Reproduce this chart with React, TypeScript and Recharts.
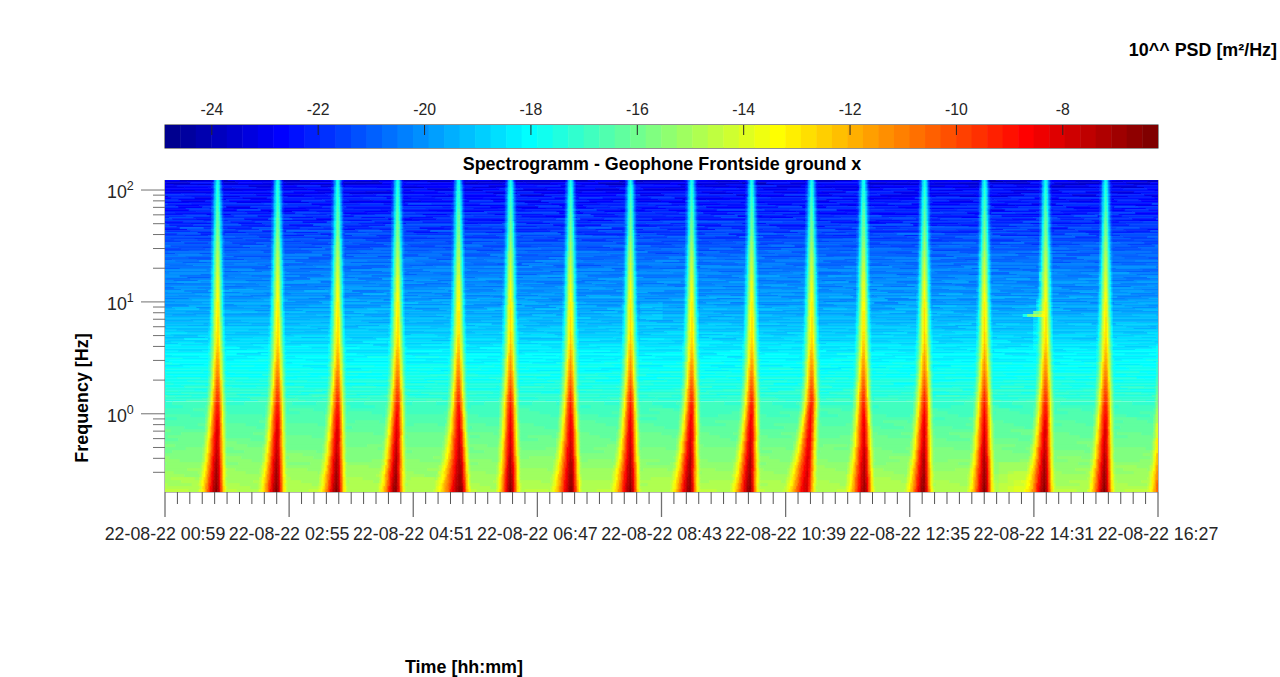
import React from 'react';
import { ScatterChart, Scatter, XAxis, YAxis, ReferenceLine } from 'recharts';

// MATLAB jet(64), the colorbar steps
const jetColors = [
  '#00008f', '#00009f', '#0000af', '#0000bf', '#0000cf', '#0000df', '#0000ef', '#0000ff',
  '#0010ff', '#0020ff', '#0030ff', '#0040ff', '#0050ff', '#0060ff', '#0070ff', '#0080ff',
  '#008fff', '#009fff', '#00afff', '#00bfff', '#00cfff', '#00dfff', '#00efff', '#00ffff',
  '#10ffef', '#20ffdf', '#30ffcf', '#40ffbf', '#50ffaf', '#60ff9f', '#70ff8f', '#80ff80',
  '#8fff70', '#9fff60', '#afff50', '#bfff40', '#cfff30', '#dfff20', '#efff10', '#ffff00',
  '#ffef00', '#ffdf00', '#ffcf00', '#ffbf00', '#ffaf00', '#ff9f00', '#ff8f00', '#ff8000',
  '#ff7000', '#ff6000', '#ff5000', '#ff4000', '#ff3000', '#ff2000', '#ff1000', '#ff0000',
  '#ef0000', '#df0000', '#cf0000', '#bf0000', '#af0000', '#9f0000', '#8f0000', '#800000',
];
const psdMin = -24.88;
const psdMax = -6.21;
const colorbarTicks = [-24, -22, -20, -18, -16, -14, -12, -10, -8];

// time axis, minutes since 00:59
const majorTimes = [0, 116, 232, 348, 464, 580, 696, 812, 928];
const timeLabels = ['00:59', '02:55', '04:51', '06:47', '08:43', '10:39', '12:35', '14:31', '16:27'];
const minorStep = 11.6;
const timeColumns = 662;

const decadeTicks = [1, 10, 100];
const minorFreqTicks = [0.3, 0.4, 0.5, 0.6, 0.7, 0.8, 0.9, 2, 3, 4, 5, 6, 7, 8, 9, 20, 30, 40, 50, 60, 70, 80, 90];

// centre frequency of each spectrogram row, bottom to top [Hz]
const freqBins = [
  0.2075, 0.2208, 0.2348, 0.2497, 0.2656, 0.2825, 0.3005, 0.3196, 0.3399, 0.3615,
  0.3845, 0.409, 0.435, 0.4627, 0.4921, 0.5234, 0.5567, 0.5921, 0.6298, 0.6698,
  0.7124, 0.7577, 0.8059, 0.8572, 0.9117, 0.9697, 1.031, 1.097, 1.167, 1.241,
  1.32, 1.404, 1.493, 1.588, 1.689, 1.796, 1.91, 2.032, 2.161, 2.298,
  2.445, 2.6, 2.766, 2.941, 3.128, 3.327, 3.539, 3.764, 4.003, 4.258,
  4.529, 4.817, 5.123, 5.449, 5.795, 6.164, 6.556, 6.973, 7.416, 7.888,
  8.39, 8.923, 9.491, 10.09, 10.74, 11.42, 12.14, 12.92, 13.74, 14.61,
  15.54, 16.53, 17.58, 18.7, 19.89, 21.15, 22.5, 23.93, 25.45, 27.07,
  28.79, 30.62, 32.57, 34.64, 36.84, 39.18, 41.67, 44.32, 47.14, 50.14,
  53.33, 56.72, 60.33, 64.16, 68.24, 72.58, 77.2, 82.11, 87.33, 92.88,
  98.79, 105.1, 111.7, 118.9,
];
// the finer bins in between, row index 30 upwards, where the streaks are thin
const freqBinsBetween = [
  1.361, 1.448, 1.54, 1.638, 1.742, 1.852, 1.97, 2.096, 2.229, 2.37,
  2.521, 2.681, 2.853, 3.033, 3.226, 3.431, 3.65, 3.882, 4.128, 4.391,
  4.671, 4.968, 5.283, 5.62, 5.976, 6.357, 6.761, 7.191, 7.648, 8.135,
  8.653, 9.202, 9.788, 10.41, 11.08, 11.78, 12.52, 13.32, 14.17, 15.07,
  16.03, 17.05, 18.13, 19.29, 20.51, 21.81, 23.2, 24.68, 26.25, 27.92,
  29.69, 31.58, 33.59, 35.73, 37.99, 40.41, 42.97, 45.71, 48.62, 51.71,
  55, 58.5, 62.22, 66.17, 70.38, 74.85, 79.62, 84.68, 90.06, 95.79,
  101.9, 108.4, 115.2, 122.6,
];

// quiet level between the events, per row [log10 PSD]
const backgroundPsd = [
  -14.75, -14.85, -14.95, -15, -15.1, -15.15, -15.25, -15.3, -15.4, -15.5,
  -15.55, -15.65, -15.7, -15.8, -15.85, -15.95, -16, -16.05, -16.15, -16.2,
  -16.3, -16.4, -16.45, -16.55, -16.6, -16.7, -16.8, -16.85, -16.95, -17.05,
  -17.15, -17.25, -17.35, -17.45, -17.5, -17.6, -17.65, -17.7, -17.8, -17.85,
  -17.9, -17.95, -18, -18.1, -18.15, -18.2, -18.3, -18.4, -18.5, -18.65,
  -18.75, -18.85, -18.9, -19, -19.1, -19.2, -19.3, -19.35, -19.45, -19.55,
  -19.65, -19.7, -19.8, -19.9, -19.95, -20, -20.05, -20.1, -20.15, -20.2,
  -20.25, -20.3, -20.35, -20.45, -20.5, -20.6, -20.65, -20.7, -20.8, -20.9,
  -21, -21.1, -21.2, -21.3, -21.4, -21.5, -21.6, -21.7, -21.8, -21.85,
  -21.95, -22, -22.1, -22.15, -22.2, -22.3, -22.35, -22.4, -22.5, -22.6,
  -22.7, -22.85, -23, -23.3,
];

// level in the core of an event, per row [log10 PSD]
const peakPsd = [
  -6.5, -6.6, -6.7, -6.8, -6.85, -6.95, -7, -7.05, -7.1, -7.2,
  -7.25, -7.35, -7.45, -7.55, -7.6, -7.7, -7.8, -7.85, -7.95, -8,
  -8.1, -8.2, -8.3, -8.4, -8.5, -8.6, -8.75, -8.85, -9, -9.2,
  -9.35, -9.5, -9.7, -9.9, -10.1, -10.3, -10.45, -10.65, -10.85, -11,
  -11.2, -11.35, -11.45, -11.6, -11.7, -11.85, -12, -12.1, -12.25, -12.4,
  -12.5, -12.55, -12.6, -12.65, -12.7, -12.75, -12.75, -12.8, -12.85, -12.85,
  -12.9, -13, -13.1, -13.2, -13.3, -13.35, -13.45, -13.55, -13.65, -13.7,
  -13.8, -13.9, -14.05, -14.15, -14.25, -14.3, -14.4, -14.5, -14.65, -14.75,
  -14.9, -15, -15.15, -15.3, -15.4, -15.55, -15.65, -15.75, -15.85, -15.95,
  -16.05, -16.15, -16.3, -16.4, -16.5, -16.65, -16.75, -16.85, -17, -17.1,
  -17.2, -17.3, -17.45, -17.6,
];

// how far an event reaches before / after its core, per row [min]
const reachBefore = [
  20, 19.7, 19.4, 19.1, 18.8, 18.5, 18, 17.6, 17.1, 16.6,
  16, 15.7, 15.4, 15.1, 14.8, 14.5, 14.2, 13.9, 13.6, 13.3,
  13, 12.8, 12.6, 12.4, 12.2, 12, 11.7, 11.5, 11.3, 11.2,
  11, 10.9, 10.7, 10.6, 10.4, 10.3, 10.1, 10, 9.8, 9.7,
  9.5, 9.4, 9.4, 9.3, 9.2, 9.1, 9, 8.9, 8.9, 8.8,
  8.7, 8.7, 8.6, 8.5, 8.5, 8.4, 8.3, 8.3, 8.2, 8.1,
  8, 8, 7.9, 7.9, 7.8, 7.8, 7.7, 7.7, 7.6, 7.6,
  7.5, 7.5, 7.4, 7.4, 7.3, 7.3, 7.2, 7.2, 7.1, 7.1,
  7, 7, 6.9, 6.9, 6.9, 6.8, 6.8, 6.8, 6.7, 6.7,
  6.7, 6.6, 6.6, 6.5, 6.5, 6.5, 6.4, 6.4, 6.3, 6.3,
  6.2, 6.2, 6.1, 6,
];
const reachAfter = [
  10, 10, 9.9, 9.9, 9.8, 9.8, 9.7, 9.7, 9.6, 9.6,
  9.5, 9.5, 9.4, 9.4, 9.3, 9.3, 9.2, 9.2, 9.1, 9.1,
  9, 8.9, 8.9, 8.8, 8.7, 8.7, 8.6, 8.5, 8.5, 8.4,
  8.4, 8.3, 8.3, 8.3, 8.2, 8.2, 8.2, 8.1, 8.1, 8.1,
  8, 8, 7.9, 7.9, 7.8, 7.8, 7.7, 7.7, 7.6, 7.6,
  7.5, 7.5, 7.4, 7.4, 7.3, 7.3, 7.2, 7.2, 7.1, 7.1,
  7, 7, 7, 6.9, 6.9, 6.9, 6.8, 6.8, 6.8, 6.7,
  6.7, 6.7, 6.7, 6.6, 6.6, 6.6, 6.6, 6.5, 6.5, 6.5,
  6.5, 6.4, 6.4, 6.4, 6.3, 6.3, 6.3, 6.2, 6.2, 6.2,
  6.1, 6.1, 6.1, 6, 6, 6, 5.9, 5.9, 5.8, 5.8,
  5.7, 5.7, 5.6, 5.5,
];

// share of the peak left at 0, 5, .. 100 % of the reach
const eventFalloff = [1, 0.985, 0.95, 0.905, 0.85, 0.79, 0.73, 0.665, 0.6, 0.53, 0.46, 0.4, 0.34, 0.28, 0.225, 0.18, 0.135, 0.095, 0.06, 0.025, 0];

// the events [min since 00:59]; the last one sits just past the right edge
const eventTimes = [49.5, 105.6, 161.7, 217.7, 274.7, 323.3, 379.4, 435.4, 492.5, 548.6, 604.6, 653.2, 710.2, 766.3, 823.3, 879.4, 935.5];
// per event, at the lowest frequencies: core offset [min], width of the early flare, change of the peak
const eventLowShift = [-1, -1, -1, -2, 2, 0, 0.7, 0, -2, -2, -5, 1, -1, 0, -1, -1, 0];
const eventLowFlare = [0.9, 0.9, 0.9, 0.85, 1.3, 0.7, 1.05, 1, 0.95, 0.95, 1.1, 0.95, 0.9, 0.85, 1, 0.85, 0.9];
const eventLowPeak = [0, 0, 0, 0, 0, 0, 0, 0, 0, 0, -1.2, -0.3, 0, 0, 0, 0, 0];

// horizontal streaks above about 1 Hz, estimated by eye, row index 30 upwards
const streakPsd = [
  0.04, -0.04, 0.07, -0.07, 0.04, 0.07, -0.04, -0.07, 0.07, 0, -0.1, 0.1, 0.04, -0.07, 0.14, -0.1, 0.07, -0.04, 0.1, -0.14,
  0.14, -0.07, -0.14, 0.18, 0, -0.1, 0.18, -0.18, 0.07, 0.14, -0.07, -0.2, 0.1, 0.18, -0.14, 0.04, 0.2, -0.18, -0.04, 0.14,
  -0.2, 0.18, 0.07, -0.18, 0.2, -0.07, -0.2, 0.14, 0.25, -0.14, -0.04, 0.2, -0.25, 0.1, 0.18, -0.2, 0.04, 0.25, -0.14, -0.2,
  0.2, 0.07, -0.25, 0.14, 0.28, -0.2, -0.1, 0.25, -0.28, 0.18, 0.07, -0.25, 0.2, -0.14,
];
// the streak pattern does not stay put along the time axis
const streakShift = [
  0, 17, 41, 5, 29, 60, 12, 48, 23, 67, 36, 8, 55, 19, 44, 2, 31, 63, 14, 50, 26,
  70, 38, 10, 57, 21, 46, 33, 6, 52, 16, 65, 27, 42, 3, 58, 24, 69, 11, 37, 61, 20,
];
// slow drift of the low frequency part
const lowDrift = [
  0.1, -0.08, 0.15, 0, -0.12, 0.08, 0.18, -0.06, 0, 0.14, -0.1, 0.06, 0.2, 0, -0.12, 0.1, 0.04, -0.06, 0.14, 0.08, -0.04,
  0.08, 0.14, 0, 0.1, -0.08, 0.06, 0, 0.12, -0.1, 0.04, 0.16, -0.04, 0.08, -0.12, 0.1, 0, 0.14, -0.06, 0.06, 0.1, -0.02,
];

// local features above the quiet level: [start min, end min, lowest row, highest row, rise]
const patchStart = [802, 806, 812, 811, 812, 812, 814, 817, 780, 788, 793, 445];
const patchEnd = [806, 812, 822, 822, 822, 822, 822, 822, 810, 808, 806, 465];
const patchLowRow = [58, 58, 58, 59, 52, 47, 60, 70, 0, 0, 0, 57];
const patchHighRow = [58, 58, 58, 59, 57, 51, 63, 72, 9, 6, 3, 62];
const patchRise = [1.5, 3.5, 4.5, 3.5, 0.6, 0.4, 1, 1.2, 0.25, 0.55, 0.8, 0.3];

const levelOf = (psd: number) =>
  Math.max(0, Math.min(63, Math.floor(((psd - psdMin) / (psdMax - psdMin)) * 64)));

const psdAt = (row: number, between: boolean, col: number, t: number) => {
  const segment = Math.floor((col + row * 7 + (between ? 5 : 0)) / 16);
  let base = backgroundPsd[row];
  if (row >= 30) {
    const gain = row < 60 ? 1.2 : row < 85 ? 1.8 : 2.6;
    base += gain * streakPsd[(row - 30 + (between ? 37 : 0) + streakShift[segment % streakShift.length]) % streakPsd.length];
  } else {
    base += lowDrift[(segment + Math.floor(row / 5)) % lowDrift.length];
  }
  let rise = 0;
  patchStart.forEach((start, p) => {
    if (t >= start && t <= patchEnd[p] && row >= patchLowRow[p] && row <= patchHighRow[p]) {
      rise = Math.max(rise, patchRise[p]);
    }
  });
  base += rise;
  const low = row < 30 ? (30 - row) / 30 : 0;
  let psd = base;
  eventTimes.forEach((event, e) => {
    const dt = t - (event + eventLowShift[e] * low);
    const reach = dt < 0 ? reachBefore[row] * (1 + (eventLowFlare[e] - 1) * low) : reachAfter[row];
    const at = Math.round((Math.abs(dt) / reach) * 20);
    if (at <= 20) psd = Math.max(psd, base + (peakPsd[row] + eventLowPeak[e] * low - base) * eventFalloff[at]);
  });
  return psd;
};

// neighbouring columns of one colour become one cell
const cells: { t: number; f: number; span: number; level: number; thin: boolean }[] = [];
const columnWidth = majorTimes[8] / timeColumns;
const addRow = (f: number, row: number, between: boolean) => {
  let start = 0;
  let current = -1;
  for (let col = 0; col <= timeColumns; col++) {
    const level = col < timeColumns ? levelOf(psdAt(row, between, col, (col + 0.5) * columnWidth)) : -2;
    if (level !== current) {
      if (current >= 0) {
        cells.push({ t: ((start + col) / 2) * columnWidth, f, span: (col - start) * columnWidth, level: current, thin: row >= 30 });
      }
      start = col;
      current = level;
    }
  }
};
freqBins.forEach((f, row) => addRow(f, row, false));
freqBinsBetween.forEach((f, i) => addRow(f, i + 30, true));

const timeTicks = majorTimes.slice(0, -1).flatMap((t) => Array.from({ length: 10 }, (_, i) => t + i * minorStep)).concat(majorTimes[8]);
const freqTicks = [...minorFreqTicks, ...decadeTicks];
const barStep = (psdMax - psdMin) / jetColors.length;
const barCells = jetColors.map((color, i) => ({ x: psdMin + (i + 0.5) * barStep, y: 0.5, color }));

const axisGrey = '#707070';
const textColor = '#262626';
const fontFamily = '"Liberation Sans", Arial, sans-serif';
const pxPerMinute = 993 / 928;

const SpecCell = (props: any) => {
  const { cx, cy, payload } = props;
  const w = payload.span * pxPerMinute + 0.6;
  const h = payload.thin ? 1.9 : 3.8;
  return <rect x={cx - w / 2} y={cy - h / 2} width={w} height={h} fill={jetColors[payload.level]} />;
};

const BarCell = (props: any) => {
  const { cx, cy, payload } = props;
  return <rect x={cx - 8} y={cy - 11.5} width={16} height={23} fill={payload.color} />;
};

const TimeTick = (props: any) => {
  const { x, y, payload } = props;
  const major = majorTimes.indexOf(payload.value);
  return (
    <g>
      <line x1={x} x2={x} y1={y} y2={y + (major >= 0 ? 25 : 12)} stroke={major >= 0 ? axisGrey : '#555'} strokeWidth={major >= 0 ? 1.3 : 1} />
      {major >= 0 && (
        <text x={x} y={y + 48} textAnchor="middle" fontSize={17.8} fill={textColor} fontFamily={fontFamily}>
          22-08-22 {timeLabels[major]}
        </text>
      )}
    </g>
  );
};

const FreqTick = (props: any) => {
  const { x, y, payload } = props;
  const decade = decadeTicks.indexOf(payload.value);
  return (
    <g>
      <line x1={x - (decade >= 0 ? 24 : 12)} x2={x} y1={y} y2={y} stroke={axisGrey} strokeWidth={1} />
      {decade >= 0 && (
        <text x={x - 58} y={y + 8} fontSize={17.8} fill={textColor} fontFamily={fontFamily}>
          10
          <tspan fontSize={12.5} dy={-8}>{decade}</tspan>
        </text>
      )}
    </g>
  );
};

const ColorbarTick = (props: any) => {
  const { x, y, payload } = props;
  return (
    <g>
      <line x1={x} x2={x} y1={y} y2={y + 10} stroke="#262626" strokeWidth={1} />
      <text x={x} y={y - 10} textAnchor="middle" fontSize={15.8} fill={textColor} fontFamily={fontFamily}>
        {payload.value}
      </text>
    </g>
  );
};

const labelStyle = { fontFamily, fontWeight: 700, fontSize: 17.9, fill: '#000' };

export default function App() {
  return (
    <div style={{ position: 'absolute', left: 0, top: 0, width: 1280, height: 677, background: '#fff', overflow: 'hidden' }}>
      <div style={{ position: 'absolute', left: 0, top: 0 }}>
        <ScatterChart width={1280} height={677} margin={{ top: 180, right: 122, bottom: 145, left: 105 }}>
          <XAxis
            type="number"
            dataKey="t"
            domain={[0, 928]}
            ticks={timeTicks}
            interval={0}
            height={40}
            tickSize={0}
            tickMargin={0}
            tick={TimeTick}
            stroke={axisGrey}
            allowDataOverflow
          />
          <YAxis
            type="number"
            dataKey="f"
            scale="log"
            domain={[0.2, 122.9]}
            ticks={freqTicks}
            interval={0}
            width={60}
            tickSize={0}
            tickMargin={0}
            tick={FreqTick}
            stroke={axisGrey}
            allowDataOverflow
          />
          <Scatter data={cells} shape={SpecCell} isAnimationActive={false} />
          <ReferenceLine x={928} stroke={axisGrey} />
          <text x={662} y={170} textAnchor="middle" {...labelStyle}>Spectrogramm - Geophone Frontside ground x</text>
          <text x={1277} y={56} textAnchor="end" {...labelStyle}>10^^ PSD [m²/Hz]</text>
          <text x={464} y={673} textAnchor="middle" {...labelStyle}>Time [hh:mm]</text>
          <text x={88} y={398} textAnchor="middle" transform="rotate(-90 88 398)" {...labelStyle}>Frequency [Hz]</text>
        </ScatterChart>
      </div>
      <div style={{ position: 'absolute', left: 0, top: 0 }}>
        <ScatterChart width={1280} height={160} margin={{ top: 95, right: 122, bottom: 12, left: 165 }}>
          <XAxis
            type="number"
            dataKey="x"
            orientation="top"
            domain={[psdMin, psdMax]}
            ticks={colorbarTicks}
            interval={0}
            height={30}
            tickSize={0}
            tickMargin={0}
            tick={ColorbarTick}
            axisLine={false}
            allowDataOverflow
          />
          <YAxis type="number" dataKey="y" domain={[0, 1]} hide />
          <Scatter data={barCells} shape={BarCell} isAnimationActive={false} />
          <rect x={165} y={125} width={993} height={23} fill="none" stroke="#262626" strokeWidth={1} />
        </ScatterChart>
      </div>
    </div>
  );
}
